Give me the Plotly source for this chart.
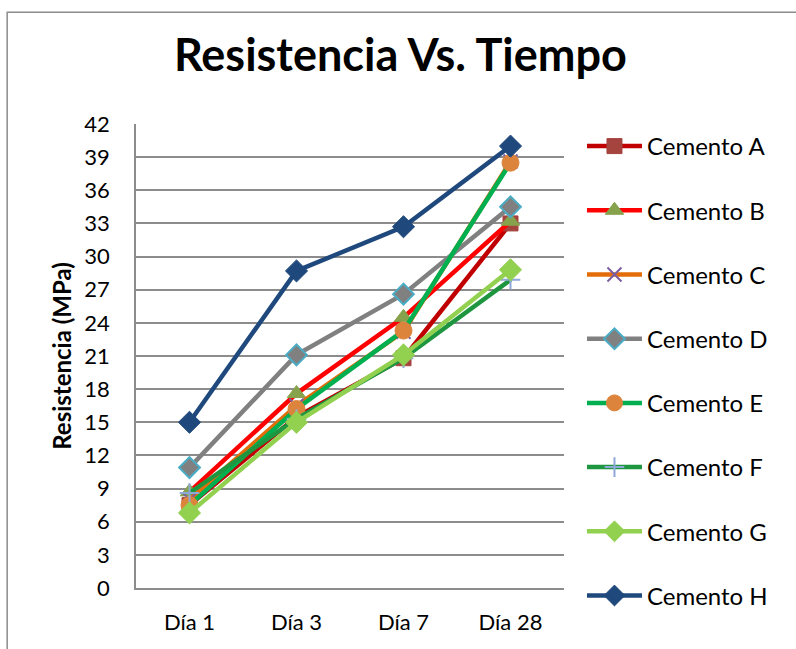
import plotly.graph_objects as go

categories = ["Día 1", "Día 3", "Día 7", "Día 28"]
series_names = ["Cemento A", "Cemento B", "Cemento C", "Cemento D",
                "Cemento E", "Cemento F", "Cemento G", "Cemento H"]
cemento_a = [7.5, 15.5, 20.8, 33.0]
cemento_b = [8.7, 17.6, 24.5, 33.2]
cemento_c = [8.0, 16.5, 23.2, 38.6]
cemento_d = [10.9, 21.1, 26.6, 34.5]
cemento_e = [7.5, 16.2, 23.3, 38.5]
cemento_f = [8.6, 15.3, 20.8, 27.9]
cemento_g = [6.8, 15.0, 21.1, 28.8]
cemento_h = [15.0, 28.7, 32.7, 40.0]
y_ticks = list(range(0, 43, 3))

values = [cemento_a, cemento_b, cemento_c, cemento_d,
          cemento_e, cemento_f, cemento_g, cemento_h]
line_colors = ["#C00000", "#FF0000", "#E36C09", "#808080",
               "#00B050", "#1E9640", "#92D050", "#1F497D"]
markers = [
    dict(symbol="square", size=15, color="#A5433F", line=dict(color="#A5433F", width=1)),
    dict(symbol="triangle-up", size=16, color="#87A24C", line=dict(color="#87A24C", width=1)),
    dict(symbol="x-thin", size=14, color="#7B5FA0", line=dict(color="#7B5FA0", width=2)),
    dict(symbol="diamond", size=16, color="#808080", line=dict(color="#4BACC6", width=2)),
    dict(symbol="circle", size=17, color="#DC843C", line=dict(color="#DC843C", width=1)),
    dict(symbol="cross-thin", size=14, color="#8EA9D8", line=dict(color="#8EA9D8", width=2)),
    dict(symbol="diamond", size=17, color="#92D050", line=dict(color="#92D050", width=1)),
    dict(symbol="diamond", size=17, color="#1F497D", line=dict(color="#1F497D", width=1)),
]

fig = go.Figure()
for i, (name, vals) in enumerate(zip(series_names, values)):
    fig.add_trace(go.Scatter(
        x=categories, y=vals, name=name, mode="lines+markers",
        line=dict(color=line_colors[i], width=4.5),
        marker=markers[i], legendgroup=name,
    ))

font_family = "Lato, 'Open Sans', sans-serif"
fig.update_layout(
    width=796, height=649,
    paper_bgcolor="white", plot_bgcolor="white",
    margin=dict(l=136, r=232, t=124, b=61, autoexpand=False),
    title=dict(text="<b>Resistencia Vs. Tiempo</b>", x=0.503, xanchor="center",
               y=0.915, yanchor="middle",
               font=dict(family=font_family, size=45, color="black")),
    font=dict(family=font_family, color="black"),
    showlegend=True,
    legend=dict(x=1.042, xanchor="left", y=1.0, yanchor="top",
                font=dict(size=24, family=font_family),
                tracegroupgap=30, itemwidth=55, maxheight=640,
                bgcolor="rgba(0,0,0,0)"),
    xaxis=dict(type="category", range=[-0.5, 3.5], showgrid=False, automargin=False,
               showline=True, linecolor="#8C8C8C", linewidth=1.5, ticks="",
               tickfont=dict(size=22), ticklabelstandoff=14),
    yaxis=dict(range=[0, 42], tickvals=y_ticks, showgrid=True, automargin=False,
               gridcolor="#8C8C8C", gridwidth=1.5, showline=True,
               linecolor="#8C8C8C", linewidth=1.5, ticks="",
               tickfont=dict(size=22), zeroline=False, ticklabelstandoff=20,
               title=dict(text="<b>Resistencia (MPa)</b>", font=dict(size=24), standoff=6)),
    shapes=[dict(type="rect", xref="paper", yref="paper", x0=-0.301, x1=1.7,
                 y0=-0.2, y1=1.241, line=dict(color="#8C8C8C", width=1.5))],
)

fig.write_html("out.html", post_script="document.body.style.margin='0';",
               config={"displayModeBar": False})
